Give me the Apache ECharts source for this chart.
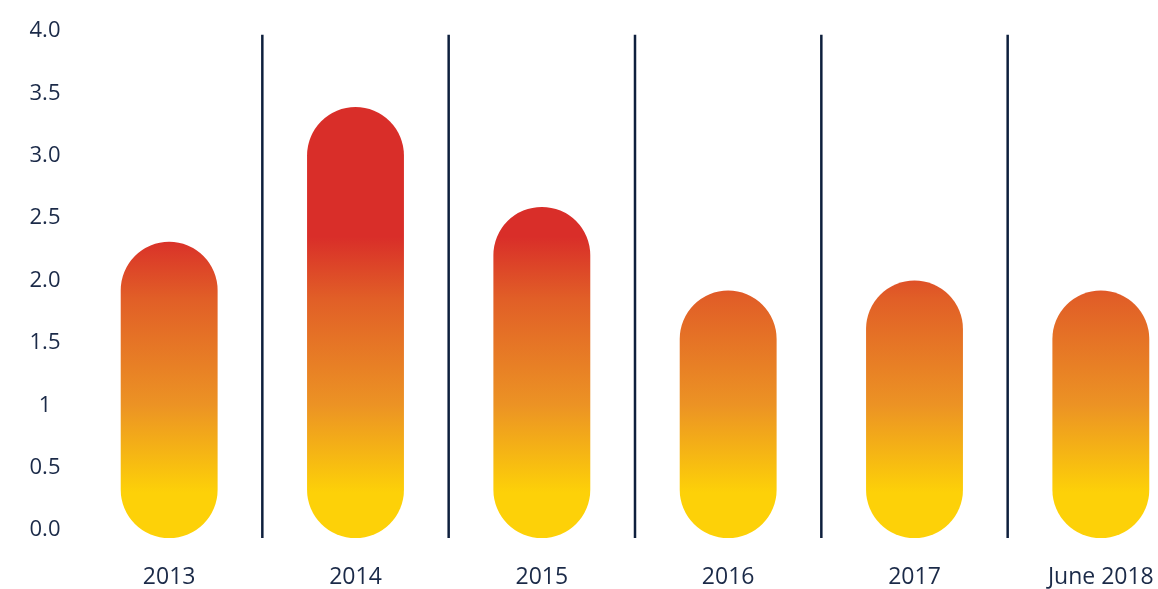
<!DOCTYPE html>
<html>
<head>
<meta charset="utf-8">
<script src="https://cdn.jsdelivr.net/npm/echarts@6/dist/echarts.min.js"></script>
<style>
  html, body { margin: 0; padding: 0; background: #fff; }
  #main { width: 1158px; height: 589px; }
</style>
</head>
<body>
<div id="main"></div>
<script>
var categories = ['2013', '2014', '2015', '2016', '2017', 'June 2018'];
var values = [2.31, 3.39, 2.59, 1.92, 2.0, 1.92];
var yTickLabels = ['0.0', '0.5', '1', '1.5', '2.0', '2.5', '3.0', '3.5', '4.0'];
// colour stops keyed by axis value (gradient is shared by all bars)
var gradientStops = [
  [0.30, '#fdd108'],
  [1.00, '#ec9324'],
  [1.85, '#e15f27'],
  [2.35, '#d92e29']
];
var barFloor = -0.065;   // capsules run a little below the 0 line
var separatorTop = 3.97;

var chart = echarts.init(document.getElementById('main'));
var textColor = '#1b2a48';

function renderCapsule(params, api) {
  var top = api.coord([api.value(0), api.value(1)]);
  var bottom = api.coord([api.value(0), barFloor]);
  var w = api.size([1, 0])[0] * 0.52;
  var y0 = api.coord([0, gradientStops[0][0]])[1];
  var y1 = api.coord([0, gradientStops[gradientStops.length - 1][0]])[1];
  var span = gradientStops[gradientStops.length - 1][0] - gradientStops[0][0];
  var stops = gradientStops.map(function (s) {
    return { offset: (s[0] - gradientStops[0][0]) / span, color: s[1] };
  });
  return {
    type: 'rect',
    shape: { x: top[0] - w / 2, y: top[1], width: w, height: bottom[1] - top[1], r: w / 2 },
    style: { fill: new echarts.graphic.LinearGradient(0, y0, 0, y1, stops, true) }
  };
}

function renderSeparator(params, api) {
  var i = api.value(0);
  var a = api.coord([i, separatorTop]);
  var b = api.coord([i + 1, barFloor]);
  var x = (a[0] + b[0]) / 2;
  return {
    type: 'line',
    shape: { x1: x, y1: a[1], x2: x, y2: b[1] },
    style: { stroke: '#0e1f3d', lineWidth: 2.5 }
  };
}

chart.setOption({
  animation: false,
  grid: { left: 76, top: 31, width: 1118, height: 499, outerBoundsMode: 'none', containLabel: false },
  xAxis: {
    type: 'category',
    data: categories,
    axisLine: { show: false },
    axisTick: { show: false },
    axisLabel: {
      margin: 36,
      color: textColor,
      fontFamily: 'Open Sans',
      fontSize: 23
    }
  },
  yAxis: {
    type: 'value',
    min: 0,
    max: 4,
    interval: 0.5,
    axisLine: { show: false },
    axisTick: { show: false },
    splitLine: { show: false },
    axisLabel: {
      margin: 31,
      align: 'center',
      color: textColor,
      fontFamily: 'Open Sans',
      fontSize: 22,
      formatter: function (v) {
        return yTickLabels[Math.round(v / 0.5)];
      }
    }
  },
  series: [
    {
      type: 'custom',
      renderItem: renderSeparator,
      clip: false,
      data: categories.slice(0, -1).map(function (c, i) { return [i]; })
    },
    {
      type: 'custom',
      renderItem: renderCapsule,
      clip: false,
      data: values.map(function (v, i) { return [i, v]; })
    }
  ]
});
</script>
</body>
</html>
